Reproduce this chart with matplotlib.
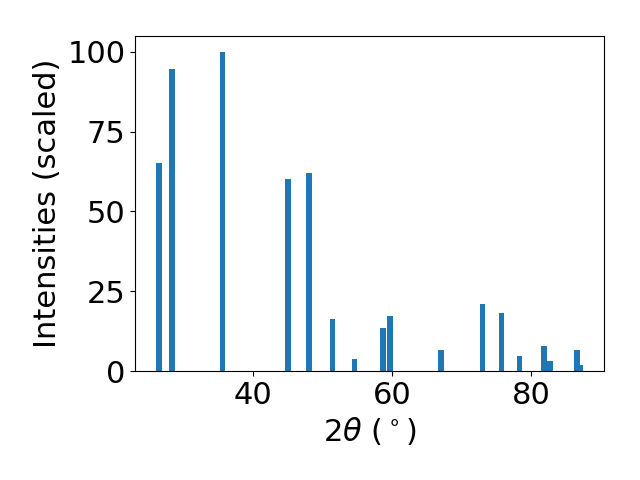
import matplotlib
matplotlib.use("Agg")
import matplotlib.pyplot as plt

# peak positions (2theta, degrees) and scaled intensities
two_theta = [26.5, 28.35, 35.6, 45.0, 48.0, 51.4, 54.6, 58.7, 59.7, 67.0,
             73.0, 75.7, 78.3, 81.8, 82.7, 86.6, 87.0]
intensity = [65.3, 94.8, 100.0, 60.2, 62.1, 16.3, 3.8, 13.5, 17.3, 6.6,
             21.0, 18.2, 4.7, 7.8, 3.1, 6.6, 1.9]

plt.rcParams["font.size"] = 22

fig, ax = plt.subplots(figsize=(6.4, 4.8), dpi=100)
ax.bar(two_theta, intensity, width=0.8)
ax.set_xlabel(r"$2\theta$ ($^\circ$)")
ax.set_ylabel("Intensities (scaled)")
fig.subplots_adjust(left=0.211, right=0.944, bottom=0.227, top=0.925)
fig.savefig("out.png")
